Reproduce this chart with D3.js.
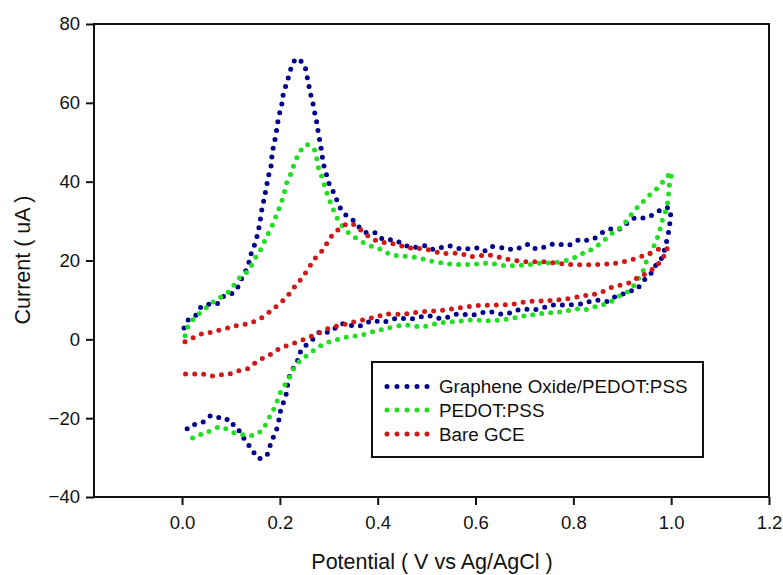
<!DOCTYPE html>
<html>
<head>
<meta charset="utf-8">
<script src="https://cdn.jsdelivr.net/npm/d3@7"></script>
<style>
  body { margin: 0; background: #fff; }
  text { font-family: Arial, "Liberation Sans", sans-serif; fill: #111; }
</style>
</head>
<body>
<div id="chart"></div>
<script>
// Data: [potential (V), current (uA)] read along each cyclic sweep
const goSweep = [
  [0.004,2.9],[0.013,5.0],[0.028,6.1],[0.039,8.2],[0.054,8.9],[0.071,9.0],[0.085,10.9],[0.098,11.4],
  [0.111,12.6],[0.119,14.8],[0.129,17.0],[0.137,19.6],[0.142,22.0],[0.150,24.6],[0.155,27.1],[0.159,29.5],
  [0.162,32.1],[0.166,34.6],[0.170,37.0],[0.174,39.6],[0.178,42.1],[0.183,44.6],[0.184,47.0],[0.188,49.5],
  [0.192,52.0],[0.195,54.6],[0.199,57.1],[0.204,59.7],[0.207,62.2],[0.213,64.7],[0.219,67.1],[0.225,69.5],
  [0.235,71.3],[0.250,69.4],[0.255,67.0],[0.259,64.6],[0.263,62.1],[0.268,59.6],[0.272,57.0],[0.276,54.6],
  [0.279,52.0],[0.283,49.5],[0.286,47.0],[0.289,44.6],[0.295,41.9],[0.301,39.4],[0.309,37.5],[0.317,35.2],
  [0.326,32.8],[0.338,31.2],[0.352,30.0],[0.367,27.8],[0.382,26.9],[0.396,27.0],[0.412,25.3],[0.435,25.2],
  [0.452,24.1],[0.470,23.3],[0.500,23.7],[0.514,22.8],[0.543,23.7],[0.574,22.9],[0.602,23.2],[0.617,22.4],
  [0.630,23.5],[0.662,23.1],[0.681,22.8],[0.709,24.1],[0.725,22.9],[0.756,24.1],[0.773,24.1],[0.790,23.9],
  [0.815,25.4],[0.830,25.1],[0.844,25.7],[0.861,27.2],[0.878,28.0],[0.895,28.0],[0.909,29.4],[0.923,30.7],
  [0.939,30.7],[0.954,31.1],[0.971,32.2],[0.984,33.3],[0.998,33.1],
  [0.998,30.7],[0.996,28.2],[0.992,25.6],[0.987,23.0],[0.981,20.7],[0.967,18.5],[0.957,16.4],[0.943,14.8],
  [0.930,12.8],[0.916,12.2],[0.900,11.4],[0.884,10.7],[0.870,9.6],[0.853,9.9],[0.837,9.7],[0.820,9.1],
  [0.790,8.7],[0.759,8.7],[0.725,7.6],[0.692,7.6],[0.660,6.4],[0.626,7.0],[0.595,6.2],[0.563,6.4],
  [0.532,5.3],[0.502,6.0],[0.472,5.2],[0.439,5.3],[0.408,4.3],[0.391,4.8],[0.364,3.4],[0.347,3.5],
  [0.330,4.0],[0.316,3.1],[0.301,1.8],[0.285,2.1],[0.261,-0.8],[0.245,-2.4],[0.238,-4.9],[0.228,-7.2],
  [0.219,-9.7],[0.211,-14.9],[0.203,-17.3],[0.195,-22.2],[0.187,-24.7],[0.179,-27.3],[0.171,-29.8],[0.154,-30.1],
  [0.143,-27.8],[0.130,-26.0],[0.120,-23.5],[0.109,-22.6],[0.098,-20.3],[0.086,-20.5],[0.073,-19.7],[0.059,-19.4],
  [0.044,-20.9],[0.029,-21.5],[0.013,-22.2],[0.006,-24.5]
];

const pedotSweep = [
  [0.006,0.9],[0.013,3.4],[0.027,5.6],[0.043,7.3],[0.059,9.0],[0.075,10.4],[0.092,11.7],[0.107,13.9],
  [0.120,15.9],[0.137,17.6],[0.146,19.9],[0.159,22.4],[0.168,24.7],[0.178,27.3],[0.187,29.6],[0.195,32.2],
  [0.203,34.7],[0.209,37.2],[0.214,39.7],[0.223,42.2],[0.230,44.7],[0.240,47.3],[0.253,49.4],[0.269,48.4],
  [0.275,46.0],[0.279,43.5],[0.286,41.2],[0.292,38.7],[0.299,36.1],[0.307,33.6],[0.315,31.3],[0.325,29.1],
  [0.341,27.0],[0.357,25.6],[0.376,24.2],[0.393,23.3],[0.411,22.6],[0.426,21.5],[0.447,21.2],[0.481,20.7],
  [0.516,19.7],[0.551,19.1],[0.587,19.0],[0.624,19.3],[0.660,18.7],[0.696,18.8],[0.732,19.3],[0.764,19.5],
  [0.798,20.5],[0.815,21.6],[0.830,22.3],[0.847,23.6],[0.864,25.2],[0.882,27.2],[0.899,28.6],[0.912,30.6],
  [0.926,32.8],[0.940,34.6],[0.957,36.7],[0.974,38.6],[0.988,40.7],[1.001,42.4],
  [0.997,39.8],[0.995,37.3],[0.993,34.8],[0.988,32.2],[0.981,29.9],[0.976,27.3],[0.969,24.9],[0.960,22.4],
  [0.950,20.0],[0.943,17.5],[0.930,14.9],[0.916,12.4],[0.899,11.4],[0.882,9.9],[0.864,8.9],[0.847,8.4],
  [0.828,7.6],[0.810,7.7],[0.776,7.0],[0.740,6.6],[0.703,6.0],[0.667,5.2],[0.630,4.7],[0.594,4.9],
  [0.558,4.5],[0.524,4.1],[0.490,3.2],[0.456,3.6],[0.420,2.8],[0.402,2.3],[0.383,1.7],[0.365,1.0],
  [0.347,0.8],[0.328,0.3],[0.309,-0.4],[0.291,-1.1],[0.273,-2.5],[0.255,-4.1],[0.240,-5.6],[0.227,-7.7],
  [0.218,-10.2],[0.204,-12.7],[0.196,-15.2],[0.187,-17.8],[0.177,-20.1],[0.166,-22.6],[0.149,-24.3],[0.131,-24.3],
  [0.111,-23.9],[0.093,-22.9],[0.077,-22.2],[0.059,-23.2],[0.043,-23.9],[0.025,-24.9],[0.006,-25.7]
];

const bareSweep = [
  [0.006,-0.6],[0.023,0.4],[0.043,1.5],[0.059,1.8],[0.078,2.4],[0.098,3.0],[0.115,3.6],[0.133,3.9],
  [0.151,4.7],[0.168,5.9],[0.185,7.6],[0.202,9.3],[0.218,11.4],[0.233,13.8],[0.246,15.7],[0.259,18.1],
  [0.271,20.4],[0.286,22.4],[0.297,24.5],[0.309,26.7],[0.325,28.3],[0.343,29.5],[0.358,28.5],[0.376,26.6],
  [0.393,25.3],[0.411,24.6],[0.429,24.3],[0.465,23.2],[0.497,22.9],[0.534,21.8],[0.568,21.8],[0.590,21.0],
  [0.626,21.4],[0.662,20.4],[0.699,19.7],[0.737,19.7],[0.774,19.2],[0.810,18.9],[0.850,19.0],[0.885,19.3],
  [0.919,20.2],[0.954,21.7],[0.984,23.2],[0.993,22.8],
  [0.981,20.4],[0.969,18.5],[0.950,16.8],[0.931,15.6],[0.916,14.4],[0.895,13.7],[0.877,13.1],[0.858,12.0],
  [0.841,11.4],[0.823,11.1],[0.784,10.2],[0.747,9.8],[0.710,9.6],[0.673,8.9],[0.636,8.7],[0.599,8.5],
  [0.561,7.9],[0.525,7.3],[0.488,7.0],[0.454,6.4],[0.418,6.4],[0.398,5.7],[0.381,5.3],[0.362,4.7],
  [0.343,4.2],[0.326,3.6],[0.307,3.1],[0.288,2.1],[0.271,1.1],[0.255,0.3],[0.237,-0.6],[0.219,-1.4],
  [0.200,-2.3],[0.183,-3.7],[0.165,-4.8],[0.148,-6.1],[0.132,-7.6],[0.115,-8.0],[0.096,-8.8],[0.078,-9.0],
  [0.059,-9.3],[0.041,-8.8],[0.022,-8.8],[0.003,-8.8]
];

const seriesNames = ["Graphene Oxide/PEDOT:PSS", "PEDOT:PSS", "Bare GCE"];
const seriesColors = ["#00008b", "#22dd22", "#d01818"];
const xTicks = [0, 0.2, 0.4, 0.6, 0.8, 1.0, 1.2];
const yTicks = [-40, -20, 0, 20, 40, 60, 80];

const series = [goSweep, pedotSweep, bareSweep];

const width = 783, height = 575;
const plot = { left: 94, right: 769, top: 24, bottom: 497 };

const svg = d3.select("#chart")
    .append("svg")
    .attr("width", width)
    .attr("height", height);

const x = d3.scaleLinear()
    .domain([-0.18, 1.2])
    .range([plot.left, plot.right]);

const y = d3.scaleLinear()
    .domain([-40, 80])
    .range([plot.bottom, plot.top]);

// Axes
const xAxis = svg.append("g")
    .attr("transform", `translate(0,${plot.bottom})`)
    .call(d3.axisBottom(x).tickValues(xTicks).tickFormat(d3.format(".1f")).tickSize(8).tickPadding(11));

const yAxis = svg.append("g")
    .attr("transform", `translate(${plot.left},0)`)
    .call(d3.axisLeft(y).tickValues(yTicks).tickSize(8).tickPadding(6));

[xAxis, yAxis].forEach(g => {
    g.select(".domain").remove();
    g.selectAll(".tick line").attr("stroke", "#111").attr("stroke-width", 2);
    g.selectAll(".tick text").style("font-size", "18.5px").attr("fill", "#222");
});

// Frame
svg.append("rect")
    .attr("x", plot.left)
    .attr("y", plot.top)
    .attr("width", plot.right - plot.left)
    .attr("height", plot.bottom - plot.top)
    .attr("fill", "none")
    .attr("stroke", "#111")
    .attr("stroke-width", 2);

// Axis titles
svg.append("text")
    .attr("x", 432)
    .attr("y", 569)
    .attr("text-anchor", "middle")
    .style("font-size", "21.5px")
    .text("Potential ( V vs Ag/AgCl )");

svg.append("text")
    .attr("transform", "rotate(-90)")
    .attr("x", -260)
    .attr("y", 22)
    .attr("dy", "0.35em")
    .attr("text-anchor", "middle")
    .style("font-size", "21.5px")
    .text("Current ( uA )");

// Dotted lines
const line = d3.line()
    .x(d => x(d[0]))
    .y(d => y(d[1]))
    .curve(d3.curveCatmullRom.alpha(0.5));

series.forEach((values, i) => {
    svg.append("path")
        .datum(values)
        .attr("d", line)
        .attr("fill", "none")
        .attr("stroke", seriesColors[i])
        .attr("stroke-width", 5)
        .attr("stroke-linecap", "round")
        .attr("stroke-dasharray", "0 9");
});

// Legend
const legend = svg.append("g");

legend.append("rect")
    .attr("x", 372)
    .attr("y", 362)
    .attr("width", 331)
    .attr("height", 95)
    .attr("fill", "#fff")
    .attr("stroke", "#111")
    .attr("stroke-width", 2);

const rowY = [386.5, 410, 434];
seriesNames.forEach((name, i) => {
    legend.append("line")
        .attr("x1", 387)
        .attr("x2", 428)
        .attr("y1", rowY[i])
        .attr("y2", rowY[i])
        .attr("stroke", seriesColors[i])
        .attr("stroke-width", 5)
        .attr("stroke-linecap", "round")
        .attr("stroke-dasharray", "0 10");

    legend.append("text")
        .attr("x", 439)
        .attr("y", rowY[i])
        .attr("dy", "0.36em")
        .style("font-size", "18.8px")
        .text(name);
});
</script>
</body>
</html>
